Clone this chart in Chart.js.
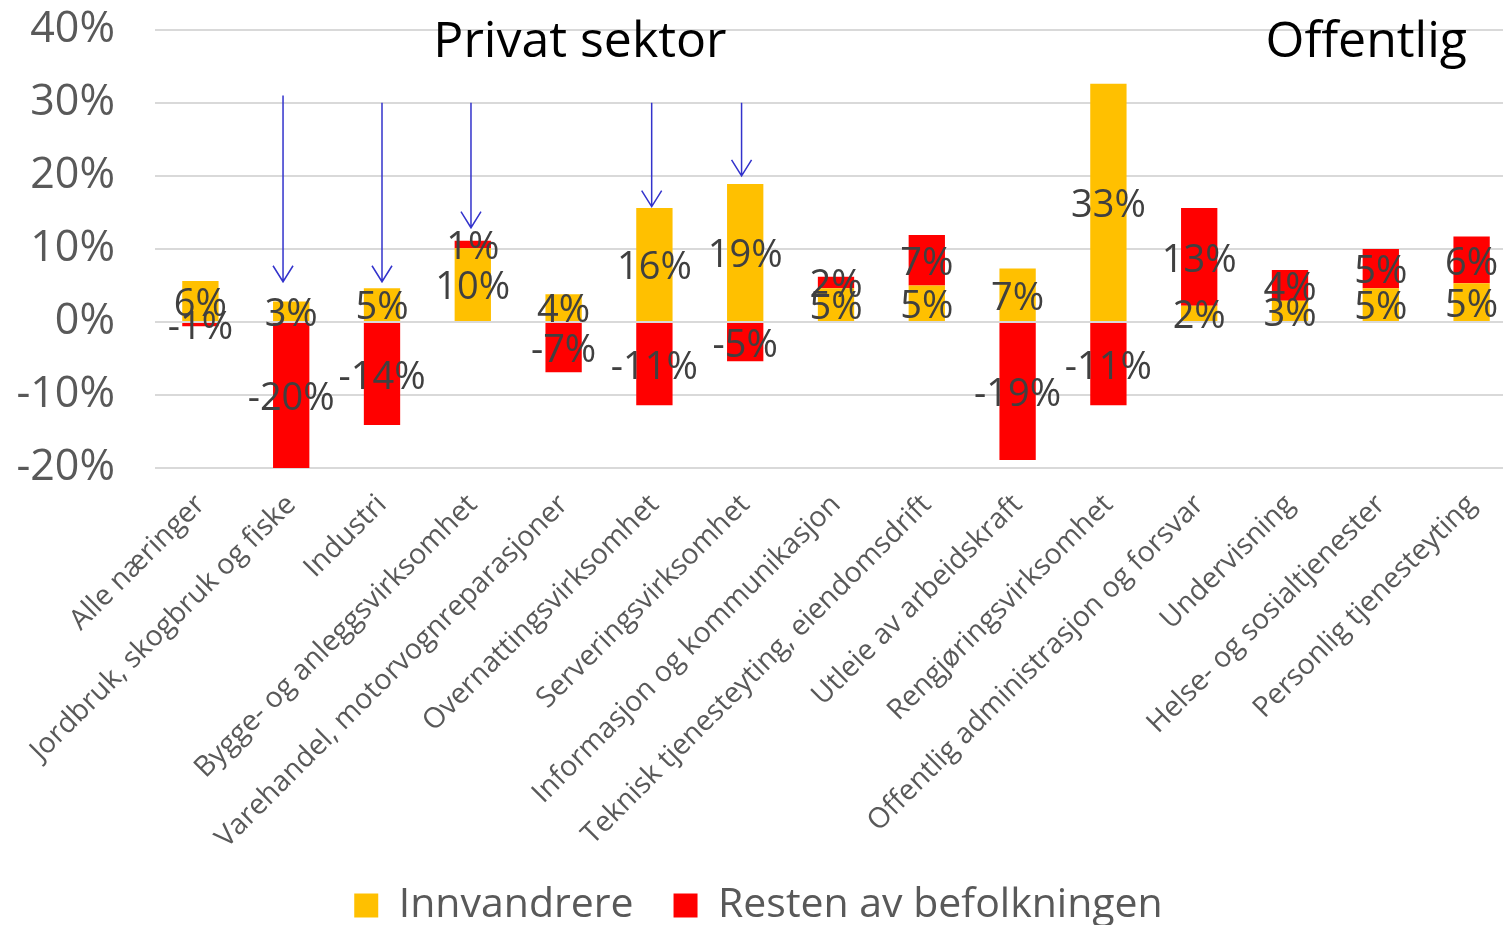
<!DOCTYPE html>
<html>
<head>
<meta charset="utf-8">
<script src="https://cdn.jsdelivr.net/npm/chart.js@4/dist/chart.umd.min.js"></script>
<style>
  html, body { margin: 0; padding: 0; background: #fff; overflow: hidden; }
  #wrap { width: 1517px; height: 961px; margin-top: -36px; }
</style>
</head>
<body>
<div id="wrap"><canvas id="chart"></canvas></div>
<script>
const categories = [
  'Alle næringer', 'Jordbruk, skogbruk og fiske', 'Industri', 'Bygge- og anleggsvirksomhet',
  'Varehandel, motorvognreparasjoner', 'Overnattingsvirksomhet', 'Serveringsvirksomhet',
  'Informasjon og kommunikasjon', 'Teknisk tjenesteyting, eiendomsdrift', 'Utleie av arbeidskraft',
  'Rengjøringsvirksomhet', 'Offentlig administrasjon og forsvar', 'Undervisning',
  'Helse- og sosialtjenester', 'Personlig tjenesteyting'
];
const innvandrere = [5.6, 2.8, 4.6, 10.1, 3.8, 15.6, 18.9, 4.6, 5.0, 7.3, 32.6, 2.2, 2.9, 4.6, 5.3];
const resten = [-0.6, -20.0, -14.1, 1.0, -6.9, -11.4, -5.4, 1.6, 6.9, -18.9, -11.4, 13.4, 4.2, 5.4, 6.4];
const seriesNames = ['Innvandrere', 'Resten av befolkningen'];
const yTicks = [-20, -10, 0, 10, 20, 30, 40];

// arrows pointing down at selected bars (category index, small shift, from %, to %)
const arrowIdx = [1, 2, 3, 5, 6];
const arrowShift = [-0.09, 0, -0.02, -0.03, -0.04];
const arrowFrom = [31, 30, 30, 30, 30];
const arrowTo = [5.5, 5.5, 12.9, 15.8, 20];

// section headings (text, category position, y value)
const sectionText = ['Privat sektor', 'Offentlig'];
const sectionPos = [4.18, 12.84];
const sectionY = [38.2, 38.2];

const FONT = '"Open Sans", "Noto Sans", sans-serif';

const labelPlugin = {
  id: 'segLabels',
  afterDatasetsDraw(chart) {
    const ctx = chart.ctx;
    ctx.save();
    ctx.font = '38px ' + FONT;
    ctx.fillStyle = '#404040';
    ctx.textAlign = 'center';
    ctx.textBaseline = 'middle';
    chart.data.datasets.forEach((ds, di) => {
      chart.getDatasetMeta(di).data.forEach((bar, i) => {
        const v = ds.data[i];
        ctx.fillText(Math.round(v) + '%', bar.x, (bar.y + bar.base) / 2 + 4);
      });
    });
    ctx.restore();
  }
};

const extrasPlugin = {
  id: 'extras',
  afterDraw(chart) {
    const ctx = chart.ctx;
    const xs = chart.scales.x, ys = chart.scales.y;
    ctx.save();
    ctx.strokeStyle = '#3333cc';
    ctx.lineWidth = 1.5;
    arrowIdx.forEach((idx, k) => {
      const x = xs.getPixelForValue(idx + arrowShift[k]);
      const y1 = ys.getPixelForValue(arrowFrom[k]);
      const y2 = ys.getPixelForValue(arrowTo[k]);
      ctx.beginPath();
      ctx.moveTo(x, y1);
      ctx.lineTo(x, y2);
      ctx.moveTo(x - 10, y2 - 16);
      ctx.lineTo(x, y2);
      ctx.lineTo(x + 10, y2 - 16);
      ctx.stroke();
    });
    ctx.font = '50px ' + FONT;
    ctx.fillStyle = '#000';
    ctx.textAlign = 'center';
    ctx.textBaseline = 'middle';
    sectionText.forEach((t, k) => {
      ctx.fillText(t, xs.getPixelForValue(sectionPos[k]), ys.getPixelForValue(sectionY[k]));
    });
    ctx.restore();
  }
};

new Chart(document.getElementById('chart'), {
  type: 'bar',
  data: {
    labels: categories,
    datasets: [
      { label: seriesNames[0], data: innvandrere, backgroundColor: '#ffc000' },
      { label: seriesNames[1], data: resten, backgroundColor: '#ff0000' }
    ]
  },
  options: {
    responsive: true,
    maintainAspectRatio: false,
    animation: false,
    layout: { padding: { top: 0, right: 0, left: 0, bottom: -11 } },
    datasets: { bar: { categoryPercentage: 1, barPercentage: 0.4 } },
    scales: {
      x: {
        stacked: true,
        grid: { display: false },
        border: { display: false },
        ticks: {
          color: '#595959',
          font: { family: FONT, size: 28.5 },
          minRotation: 45, maxRotation: 45,
          autoSkip: false,
          padding: 12
        },
        afterFit(scale) { scale.height = 377; }
      },
      y: {
        stacked: true,
        min: -20, max: 40,
        afterBuildTicks(scale) { scale.ticks = yTicks.map(v => ({ value: v })); },
        grid: { color: '#d9d9d9', lineWidth: 2, drawTicks: false },
        border: { display: false },
        ticks: {
          color: '#595959',
          font: { family: FONT, size: 43 },
          padding: 40,
          callback: v => v + '%'
        },
        afterFit(scale) { scale.width = 155; }
      }
    },
    plugins: {
      legend: {
        position: 'bottom',
        labels: {
          color: '#595959',
          font: { family: FONT, size: 41 },
          boxWidth: 24, boxHeight: 24,
          padding: 40
        }
      },
      tooltip: { enabled: false }
    }
  },
  plugins: [labelPlugin, extrasPlugin]
});
</script>
</body>
</html>
